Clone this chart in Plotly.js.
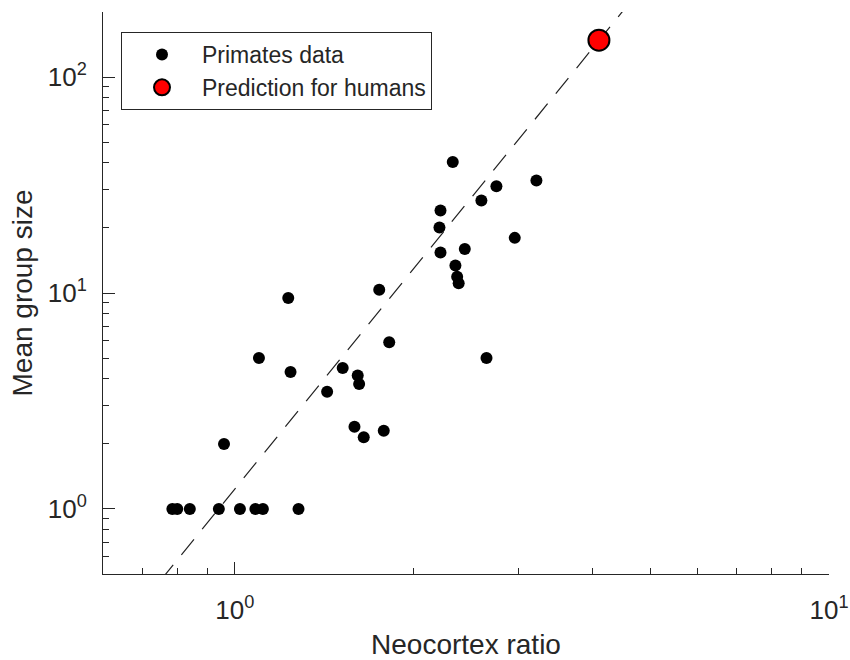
<!DOCTYPE html>
<html>
<head>
<meta charset="utf-8">
<script src="https://cdn.plot.ly/plotly-3.0.1.min.js"></script>
<style>
  html, body { margin: 0; padding: 0; background: #fff; }
  #chart { width: 850px; height: 660px; }
</style>
</head>
<body>
<div id="chart"></div>
<script>
// ---- Data ----
var primateRatio = [0.785, 0.800, 0.840, 0.940, 1.020, 1.083, 1.115, 1.280,
                    0.959, 1.230, 1.098, 1.241, 1.430, 1.519, 1.610, 1.619,
                    1.590, 1.648, 1.781, 1.750, 1.819,
                    2.327, 3.218, 2.756, 2.600, 2.219, 2.210, 2.219, 2.438,
                    2.959, 2.351, 2.367, 2.381, 2.652];
var primateGroup = [1.0, 1.0, 1.0, 1.0, 1.0, 1.0, 1.0, 1.0,
                    2.0, 9.48, 5.0, 4.31, 3.49, 4.50, 4.15, 3.79,
                    2.40, 2.15, 2.30, 10.36, 5.91,
                    40.4, 33.2, 31.2, 26.8, 24.1, 20.1, 15.4, 16.0,
                    18.0, 13.4, 11.9, 11.1, 5.0];
var humanRatio = [4.1];
var humanGroup = [148];
var fitRatio = [0.75, 4.6];
var fitGroup = [0.467, 218];

var xTickVals = [1, 10];
var xTickText = ['10<sup>0</sup>', '10<sup>1</sup>'];
var xMinorVals = [0.7, 0.8, 0.9, 2, 3, 4, 5, 6, 7, 8, 9];
var yTickVals = [1, 10, 100];
var yTickText = ['10<sup>0</sup>', '10<sup>1</sup>', '10<sup>2</sup>'];
var yMinorVals = [0.6, 0.7, 0.8, 0.9, 2, 3, 4, 5, 6, 7, 8, 9,
                  20, 30, 40, 50, 60, 70, 80, 90, 200];

var xRange = [0.6, 10];
var yRange = [0.5, 200];

// ---- Chart ----
var ink = '#262626';
var fontFam = 'Liberation Sans, Arial, Helvetica, sans-serif';

var traces = [
  {
    x: primateRatio, y: primateGroup, type: 'scatter', mode: 'markers',
    name: 'Primates data',
    marker: { color: '#000000', size: 12, line: { width: 0 } }
  },
  {
    x: fitRatio, y: fitGroup, type: 'scatter', mode: 'lines',
    showlegend: false, hoverinfo: 'skip',
    line: { color: '#222222', width: 1.2, dash: '20px,13px' }
  },
  {
    x: humanRatio, y: humanGroup, type: 'scatter', mode: 'markers',
    name: 'Prediction for humans',
    marker: { color: '#ff0000', size: 21, line: { color: '#000000', width: 2 } }
  }
];

function axisCommon() {
  return {
    type: 'log',
    showgrid: false, zeroline: false,
    showline: true, linecolor: ink, linewidth: 1, mirror: false,
    ticks: 'inside', ticklen: 12, tickwidth: 1, tickcolor: ink,
    tickmode: 'array',
    tickfont: { family: fontFam, size: 26, color: ink },
    automargin: false
  };
}

var xaxis = axisCommon();
xaxis.range = [Math.log10(xRange[0]), Math.log10(xRange[1])];
xaxis.tickvals = xTickVals;
xaxis.ticktext = xTickText;
xaxis.minor = { tickmode: 'array', tickvals: xMinorVals, ticks: 'inside', ticklen: 6, tickwidth: 1, tickcolor: ink, showgrid: false };
xaxis.ticklabelstandoff = 13;
xaxis.title = { text: 'Neocortex ratio', font: { family: fontFam, size: 28, color: ink }, standoff: 16 };

var yaxis = axisCommon();
yaxis.range = [Math.log10(yRange[0]), Math.log10(yRange[1])];
yaxis.tickvals = yTickVals;
yaxis.ticktext = yTickText;
yaxis.minor = { tickmode: 'array', tickvals: yMinorVals, ticks: 'inside', ticklen: 6, tickwidth: 1, tickcolor: ink, showgrid: false };
yaxis.ticklabelstandoff = 10;
yaxis.title = { text: 'Mean group size', font: { family: fontFam, size: 28, color: ink }, standoff: 6 };

var layout = {
  width: 850, height: 660,
  margin: { l: 103, r: 21, t: 12, b: 86, pad: 0 },
  paper_bgcolor: '#ffffff', plot_bgcolor: '#ffffff',
  font: { family: fontFam, color: ink },
  showlegend: true,
  legend: {
    x: (121 - 103) / 726, y: (574 - 32) / 562, xanchor: 'left', yanchor: 'top',
    bgcolor: '#ffffff', bordercolor: ink, borderwidth: 1,
    font: { family: fontFam, size: 23, color: ink },
    itemsizing: 'trace', itemwidth: 70, tracegroupgap: 0
  },
  xaxis: xaxis,
  yaxis: yaxis
};

Plotly.newPlot('chart', traces, layout, { displayModeBar: false, staticPlot: true });
</script>
</body>
</html>
